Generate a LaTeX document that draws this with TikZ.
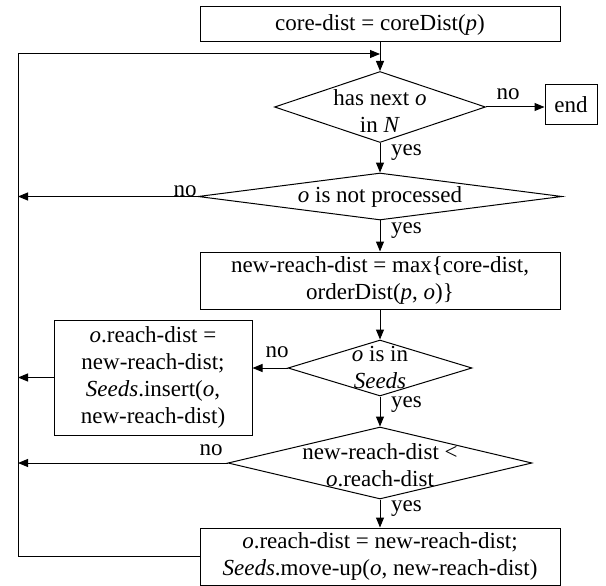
\documentclass[tikz,border=0pt]{standalone}
\usepackage{fontspec}
\setmainfont{Liberation Serif}
\usetikzlibrary{shapes.geometric,arrows.meta}

\tikzset{
  procbox/.style = {
    draw,
    line width  = 1pt,
    inner sep   = 0pt,
    align       = center
  },
  decision/.style = {
    draw,
    diamond,
    line width  = 1pt,
    inner sep   = 0pt
  },
  flow/.style = {
    line width  = 1pt,
    -{Triangle[length=10pt,width=8pt]}
  },
  tag/.style = {inner sep = 0pt}
}

\begin{document}
\begin{tikzpicture}[x=1pt, y=-1pt, font=\fontsize{23}{27}\selectfont]
  \useasboundingbox (0,0) rectangle (606,586);

  % boxes and decisions
  \node[procbox, minimum width=360pt, minimum height=35pt] (core) at (380,24.5)
    {core-dist = coreDist(\textit{p})};
  \node[decision, minimum width=211pt, minimum height=71pt] (hasnext) at (380,107) {};
  \node[align=center, yshift=-4pt] (hasnexttxt) at (hasnext) {has next \textit{o}\\in \textit{N}};
  \node[procbox, minimum width=52pt, minimum height=40pt] (stop) at (571,105) {end};
  \node[decision, minimum width=364pt, minimum height=47pt] (notproc) at (380,196.5) {};
  \node (notproctxt) at (notproc) {\textit{o} is not processed};
  \node[procbox, minimum width=360pt, minimum height=57pt] (newreach) at (380,280.5)
    {new-reach-dist = max\{core-dist,\\orderDist(\textit{p}, \textit{o})\}};
  \node[decision, minimum width=184pt, minimum height=56pt] (inseeds) at (380,368) {};
  \node[align=center] (inseedstxt) at (inseeds) {\textit{o} is in\\\textit{Seeds}};
  \node[procbox, minimum width=198pt, minimum height=115pt] (insert) at (153,377.5)
    {\textit{o}.reach-dist =\\new-reach-dist;\\\textit{Seeds}.insert(\textit{o},\\new-reach-dist)};
  \node[decision, minimum width=304pt, minimum height=72pt] (smaller) at (380,463) {};
  \node[align=center, yshift=-2pt] (smallertxt) at (smaller) {new-reach-dist <\\\textit{o}.reach-dist};
  \node[procbox, minimum width=360pt, minimum height=57pt] (moveup) at (380,556.5)
    {\textit{o}.reach-dist = new-reach-dist;\\\textit{Seeds}.move-up(\textit{o}, new-reach-dist)};

  % loop back line
  \coordinate (join) at (380,54);
  \coordinate (back) at (18,54);

  % connectors
  \draw[line width=1pt] (core) -- (join);
  \draw[flow] (join) -- (hasnext);
  \draw[flow] (hasnext.east) -- (hasnext.east -| stop.west);
  \draw[flow] (hasnext) -- (notproc);
  \draw[flow] (notproc.west) -- (notproc.west -| back);
  \draw[flow] (notproc) -- (newreach);
  \draw[flow] (newreach) -- (inseeds);
  \draw[flow] (inseeds.west) -- (inseeds.west -| insert.east);
  \draw[flow] (insert.west) -- (insert.west -| back);
  \draw[flow] (inseeds) -- (smaller);
  \draw[flow] (smaller.west) -- (smaller.west -| back);
  \draw[flow] (smaller) -- (moveup);
  \draw[flow] (moveup.west) -| (back) -- (join);

  % branch labels
  \node[tag] (no1) at (508,94) {no};
  \node[tag, anchor=west] (yes1) at (391,153) {yes};
  \node[tag] (no2) at (185,191) {no};
  \node[tag, anchor=west] (yes2) at (391,231) {yes};
  \node[tag] (no3) at (277,352) {no};
  \node[tag, anchor=west] (yes3) at (391,405) {yes};
  \node[tag] (no4) at (211,450) {no};
  \node[tag, anchor=west] (yes4) at (391,509) {yes};
\end{tikzpicture}
\end{document}
